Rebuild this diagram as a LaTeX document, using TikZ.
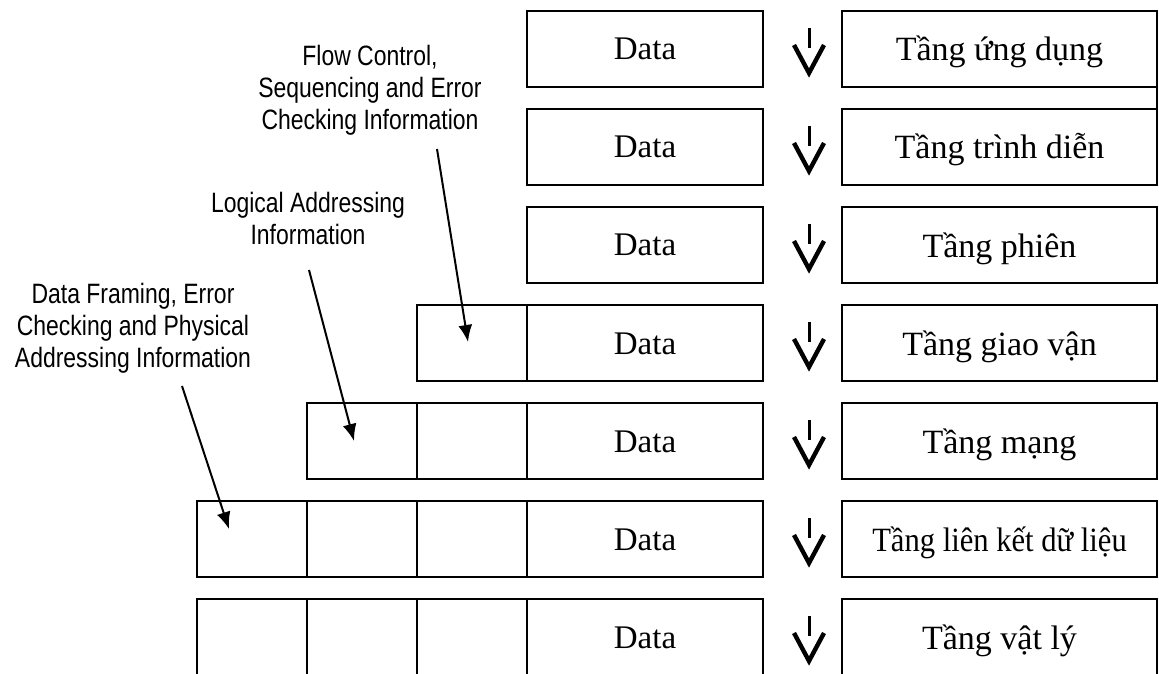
\documentclass[tikz,border=0pt]{standalone}
\usepackage{fontspec}
\setmainfont{Liberation Serif}
\newfontfamily\narrowfont[FakeStretch=0.82]{Liberation Sans}
\usepackage{tikz}
\usetikzlibrary{arrows.meta}
\newcommand{\DOWN}[1]{%
	\draw[line width=1.5pt] (809,#1+17) -- (809,#1+37);
	\draw[line width=2.2pt] (794,#1+34) -- (809,#1+62) -- (824,#1+34);}

\begin{document}
\begin{tikzpicture}[x=0.5pt, y=-0.5pt, line width=1pt]
	\tikzstyle{cell}=[draw, anchor=north west, minimum width=55pt, minimum height=38pt, inner sep=0pt, outer sep=0pt]
	\tikzstyle{datacell}=[cell, minimum width=118pt, text height=11pt, text depth=0pt, font=\fontsize{16.5}{19}\selectfont]
	\tikzstyle{layer}=[cell, minimum width=157.5pt, text height=12pt, text depth=0pt, font=\fontsize{17}{20}\selectfont]
	\tikzstyle{annot}=[align=center, font=\narrowfont\fontsize{14}{16}\selectfont]
	\tikzstyle{pointer}=[-{Latex[length=8.5pt,width=7pt]}, line width=1pt]

	\useasboundingbox (0,0) rectangle (1159,673);
	\clip (0,0) rectangle (1159,673);

	% Draw data boxes
	\node[datacell] (data1) at (527,11) {Data};
	\node[datacell] (data2) at (527,109) {Data};
	\node[datacell] (data3) at (527,207) {Data};
	\node[datacell] (data4) at (527,305) {Data};
	\node[datacell] (data5) at (527,403) {Data};
	\node[datacell] (data6) at (527,501) {Data};
	\node[datacell] (data7) at (527,599) {Data};

	% Draw headers
	\node[cell] (trans4) at (417,305) {};
	\node[cell] (net5) at (307,403) {};
	\node[cell] (trans5) at (417,403) {};
	\node[cell] (link6) at (197,501) {};
	\node[cell] (net6) at (307,501) {};
	\node[cell] (trans6) at (417,501) {};
	\node[cell] (link7) at (197,599) {};
	\node[cell] (net7) at (307,599) {};
	\node[cell] (trans7) at (417,599) {};

	% Draw layers
	\node[layer] (app) at (842,11) {Tầng ứng dụng};
	\node[layer] (pres) at (842,109) {Tầng trình diễn};
	\node[layer] (sess) at (842,207) {Tầng phiên};
	\node[layer] (transp) at (842,305) {Tầng giao vận};
	\node[layer] (netw) at (842,403) {Tầng mạng};
	\node[layer] (dlink) at (842,501) {\scalebox{0.9}[1]{Tầng liên kết dữ liệu}};
	\node[layer] (phys) at (842,599) {Tầng vật lý};
	\draw (app.south east) -- (pres.north east);

	% Draw arrows
	\DOWN{11}
	\DOWN{109}
	\DOWN{207}
	\DOWN{305}
	\DOWN{403}
	\DOWN{501}
	\DOWN{599}

	% Draw annotations
	\node[annot] (flow) at (370,90) {Flow Control,\\Sequencing and Error\\Checking Information};
	\node[annot] (logic) at (308,218) {Logical Addressing\\Information};
	\node[annot] (frame) at (133,328) {Data Framing, Error\\Checking and Physical\\Addressing Information};

	\coordinate (flowfrom) at (437,149);
	\coordinate (flowto) at (468,342);
	\coordinate (logicfrom) at (309,270);
	\coordinate (logicto) at (354,441);
	\coordinate (framefrom) at (182,386);
	\coordinate (frameto) at (229,529);
	\draw[pointer] (flowfrom) -- (flowto);
	\draw[pointer] (logicfrom) -- (logicto);
	\draw[pointer] (framefrom) -- (frameto);
\end{tikzpicture}
\end{document}
